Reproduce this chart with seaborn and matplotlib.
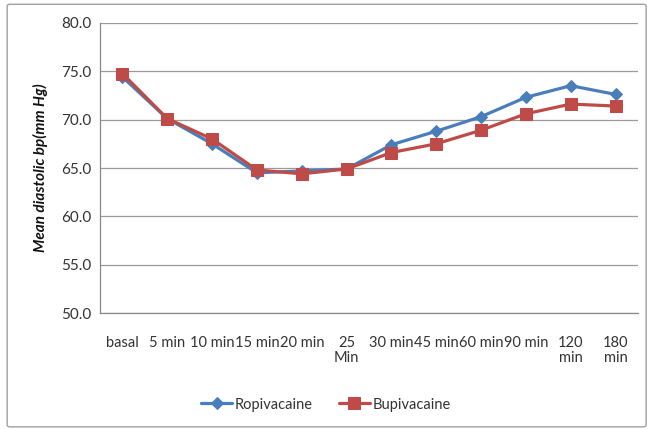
import matplotlib
matplotlib.use("Agg")
import matplotlib.pyplot as plt
from matplotlib.patches import FancyBboxPatch
import seaborn as sns
import pandas as pd

time_labels = ["basal", "5 min", "10 min", "15 min", "20 min", "25\nMin",
               "30 min", "45 min", "60 min", "90 min", "120\nmin", "180\nmin"]
ropivacaine = [74.4, 70.1, 67.5, 64.5, 64.7, 64.9, 67.4, 68.8, 70.3, 72.3, 73.5, 72.6]
bupivacaine = [74.75, 70.1, 68.0, 64.8, 64.4, 64.9, 66.6, 67.5, 68.9, 70.6, 71.6, 71.4]
series_names = ["Ropivacaine", "Bupivacaine"]
y_ticks = [50, 55, 60, 65, 70, 75, 80]

df = pd.DataFrame({
    "time": time_labels * 2,
    "value": ropivacaine + bupivacaine,
    "series": [series_names[0]] * len(time_labels) + [series_names[1]] * len(time_labels),
})

sns.set_theme(style="white")
plt.rcParams["font.family"] = ["Lato", "DejaVu Sans"]

fig = plt.figure(figsize=(6.52, 4.29), dpi=100)
ax = fig.add_axes([0.1534, 0.2697, 0.8251, 0.6773])

palette = {"Ropivacaine": "#4A7EBB", "Bupivacaine": "#BE4B48"}
markers = {"Ropivacaine": "D", "Bupivacaine": "s"}
sizes = {"Ropivacaine": 6.5, "Bupivacaine": 8.5}

for name in series_names:
    sub = df[df["series"] == name]
    sns.lineplot(data=sub, x="time", y="value", ax=ax, color=palette[name],
                 marker=markers[name], markersize=sizes[name], linewidth=2.3,
                 markeredgecolor=palette[name], label=name, sort=False)

n = len(time_labels)
ax.set_xlim(-0.5, n - 0.5)
ax.set_ylim(50, 80)
ax.set_yticks(y_ticks)
ax.set_yticklabels([f"{v:.1f}" for v in y_ticks])
ax.set_xticks(range(n))
ax.set_xticklabels(time_labels, va="top", linespacing=1.15)
ax.set_xticks([i - 0.5 for i in range(n + 1)], minor=True)
ax.tick_params(axis="x", which="major", length=0, pad=16, labelsize=10.5, labelcolor="#333333")
ax.tick_params(axis="x", which="minor", length=4, width=0.8, color="#888888", direction="out")
ax.tick_params(axis="y", length=4, width=0.8, color="#888888", direction="out", pad=2,
               labelsize=11, labelcolor="#333333")
ax.set_xlabel("")
ax.set_ylabel("Mean diastolic bp(mm Hg)", fontsize=11, fontweight="bold", fontstyle="italic",
              color="#111111", labelpad=10)
ax.yaxis.grid(True, color="#9a9a9a", linewidth=0.9)
ax.xaxis.grid(False)
for side in ["top", "right"]:
    ax.spines[side].set_visible(False)
for side in ["left", "bottom"]:
    ax.spines[side].set_color("#888888")
    ax.spines[side].set_linewidth(0.9)

ax.get_legend().remove()
handles, labels = ax.get_legend_handles_labels()
fig.legend(handles, labels, loc="center", bbox_to_anchor=(0.5, 0.057), ncol=2, frameon=False,
           fontsize=10.5, handlelength=2.1, handletextpad=0.2, columnspacing=1.8,
           labelcolor="#333333")

border = FancyBboxPatch((0.011, 0.005), 0.98, 0.985, boxstyle="round,pad=0,rounding_size=0.004",
                        transform=fig.transFigure, fill=False, edgecolor="#a0a0a0", linewidth=1.0)
fig.patches.append(border)

fig.savefig("out.png", dpi=100)
